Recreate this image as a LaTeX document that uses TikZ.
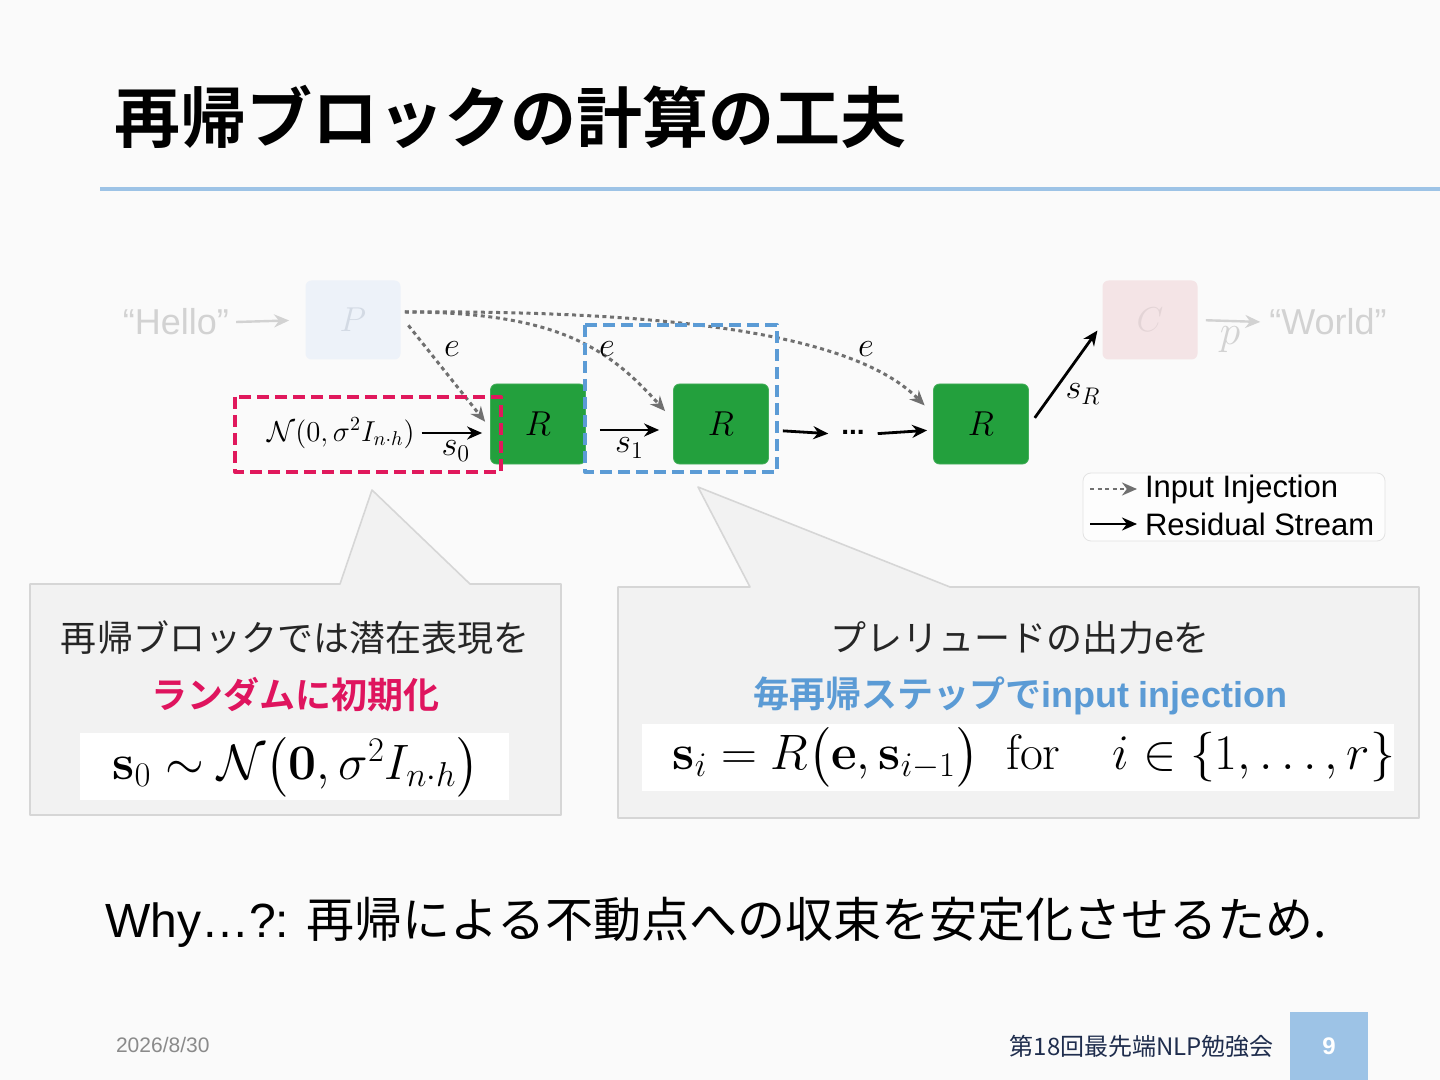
\documentclass[tikz,border=0pt]{standalone}
\usepackage{amsmath}
\usepackage[no-math]{fontspec}
\setmainfont{Liberation Sans}
\newfontfamily\jp{Noto Sans CJK JP}[BoldFont={* Bold}]
\usetikzlibrary{arrows.meta,calc}
\definecolor{slidebg}{HTML}{FAFAFA}
\definecolor{titleblue}{HTML}{9DC3E6}
\definecolor{rgreen}{HTML}{23A03D}
\definecolor{redline}{HTML}{E0185C}
\definecolor{blueline}{HTML}{5B9BD5}
\definecolor{injgray}{HTML}{707070}
\definecolor{ghostgray}{HTML}{D2D2D2}
\definecolor{pfill}{HTML}{EDF2F9}
\definecolor{pletter}{HTML}{D3DAE4}
\definecolor{cfill}{HTML}{F4E4E6}
\definecolor{cletter}{HTML}{E3D4D6}
\definecolor{callfill}{HTML}{F2F2F2}
\definecolor{callline}{HTML}{D6D6D6}
\definecolor{legline}{HTML}{E2E2E2}
\definecolor{navy}{HTML}{1F2D4D}
\definecolor{dategray}{HTML}{8A8A8A}
\definecolor{pinktext}{HTML}{DF145E}
\tikzset{
  rbox/.style={fill=rgreen, draw=rgreen!85!white, rounded corners=3pt,
    minimum width=47.5pt, minimum height=40pt, font=\fontsize{16pt}{16pt}\selectfont},
  ghostbox/.style={rounded corners=3pt, minimum width=47.5pt, minimum height=39.5pt,
    font=\fontsize{16pt}{16pt}\selectfont},
  inj/.style={->, draw=injgray, line width=1.5pt, dash pattern=on 2pt off 1.8pt},
  res/.style={->, line width=1.4pt},
  ghostarrow/.style={->, draw=ghostgray, line width=1.2pt},
  callout/.style={fill=callfill, draw=callline, line width=0.8pt},
  jptext/.style={font=\jp\fontsize{18pt}{18pt}\selectfont, text=black!85, inner sep=0pt},
  bigmath/.style={font=\fontsize{26pt}{30pt}\selectfont, inner sep=0pt}
}
\begin{document}
\begin{tikzpicture}[x=0.5pt, y=-0.5pt, >={Stealth[length=7.5pt,width=6.5pt]}, line join=round]
  \fill[slidebg] (0,0) rectangle (1440,1080);
  \useasboundingbox (0,0) rectangle (1440,1080);
  % title
  \node (title) at (107,117) [anchor=west] {\jp\bfseries\fontsize{33pt}{36pt}\selectfont 再帰ブロックの計算の工夫};
  \draw[titleblue, line width=2pt] (100,189) -- (1440,189);
  % figure
  \node (hello) at (176,322) {\color{ghostgray}\fontsize{18pt}{18pt}\selectfont “Hello”};
  \node[ghostbox, fill=pfill] (P) at (353,320) {\color{pletter}$P$};
  \draw[ghostarrow, shorten <=0pt, shorten >=8pt] (hello.east) -- (P.west);
  \node[rbox] (r1) at (538,424) {$R$};
  \node[rbox] (r2) at (721,424) {$R$};
  \node[rbox] (r3) at (981,424) {$R$};
  \node[ghostbox, fill=cfill] (C) at (1150,320) {\color{cletter}$C$};
  \node (world) at (1328,322) {\color{ghostgray}\fontsize{18pt}{18pt}\selectfont “World”};
  \draw[ghostarrow, shorten <=4pt, shorten >=1pt] (C.east) -- (world.west)
    node[midway, below=-1pt] (plab) {\color{ghostgray}\fontsize{20pt}{20pt}\selectfont$p$};
  % input injection
  \draw[inj, shorten <=6pt, shorten >=4pt] ([yshift=2pt]P.east) -- ([yshift=-2pt]r1.west);
  \draw[inj, shorten <=2pt, shorten >=6pt] ([yshift=4pt]P.east) .. controls (560,312) and (610,350) .. ([yshift=2pt]r2.west);
  \draw[inj, shorten <=2pt, shorten >=6pt] ([yshift=4pt]P.east) .. controls (700,310) and (860,340) .. ([yshift=5pt]r3.west);
  \node (e1) at (452,349) {\fontsize{17pt}{17pt}\selectfont$e$};
  \node (e2) at (607,349) {\fontsize{17pt}{17pt}\selectfont$e$};
  \node (e3) at (866,349) {\fontsize{17pt}{17pt}\selectfont$e$};
  % residual stream
  \node (noise) at (341,433) {\fontsize{14pt}{14pt}\selectfont$\mathcal{N}(0,\sigma^2 I_{n\cdot h})$};
  \draw[res, shorten >=4pt] (noise.east) -- (noise.east -| r1.west)
    node[midway, below=0pt] (s0) {\fontsize{17pt}{17pt}\selectfont$s_0$};
  \draw[res, shorten <=7pt, shorten >=7pt] ([yshift=-3pt]r1.east) -- ([yshift=-3pt]r2.west)
    node[midway, below=0pt] (s1) {\fontsize{17pt}{17pt}\selectfont$s_1$};
  \node (dots) at (853,432) {\fontsize{14pt}{14pt}\selectfont\textbf{...}};
  \draw[res, shorten <=7pt, shorten >=3pt] ([yshift=-3pt]r2.east) -- ([yshift=-1pt]dots.west);
  \draw[res, shorten <=3pt, shorten >=3pt] ([yshift=-1pt]dots.east) -- ([yshift=-3pt]r3.west);
  \draw[res, shorten <=5pt, shorten >=4pt] ([yshift=-1pt]r3.east) -- ([yshift=-2pt]C.west);
  \node (sR) at (1083,394) {\fontsize{17pt}{17pt}\selectfont$s_R$};
  \draw[redline, line width=2pt, dash pattern=on 6pt off 3pt] (235,397) rectangle (501,472);
  \draw[blueline, line width=2pt, dash pattern=on 6pt off 3pt] (585,325) rectangle (777,472);
  % legend
  \node[draw=legline, fill=white!60!slidebg, rounded corners=4pt, minimum width=151pt, minimum height=34pt] (legend) at (1234,507) {};
  \coordinate (inja) at (1090,489);
  \coordinate (injb) at (1137,489);
  \coordinate (resa) at (1090,524);
  \coordinate (resb) at (1137,524);
  \draw[inj, line width=1.2pt] (inja) -- (injb);
  \draw[res, line width=1.2pt] (resa) -- (resb);
  \node (injlab) at (1138,489) [anchor=west] {\fontsize{15.5pt}{16pt}\selectfont Input Injection};
  \node (reslab) at (1138,524) [anchor=west] {\fontsize{15.5pt}{16pt}\selectfont Residual Stream};
  % callouts
  \draw[callout] (30,584) -- (340,584) -- (372,490) -- (470,584) -- (561,584) -- (561,815) -- (30,815) -- cycle;
  \draw[callout] (618,587) -- (750,587) -- (698,487) -- (950,587) -- (1419,587) -- (1419,818) -- (618,818) -- cycle;
  \node[jptext] (left1) at (295,638) {再帰ブロックでは潜在表現を};
  \node[jptext, text=pinktext] (left2) at (295,695) {\bfseries ランダムに初期化};
  \fill[white] (80,733) rectangle (509,800);
  \node[bigmath] (leftmath) at (296,767) {$\mathbf{s}_0\sim\mathcal{N}\bigl(\mathbf{0},\sigma^2 I_{n\cdot h}\bigr)$};
  \node[jptext] (right1) at (1020,638) {プレリュードの出力eを};
  \node[jptext, text=blueline] (right2) at (1020,696) {\bfseries 毎再帰ステップで{\rmfamily input injection}};
  \fill[white] (642,724) rectangle (1394,791);
  \node[bigmath] (rightmath) at (1034,757) {$\mathbf{s}_i=R\bigl(\mathbf{e},\mathbf{s}_{i-1}\bigr)\;\;\mathrm{for}\quad i\in\{1,\dots,r\}$};
  % bottom line
  \node (why) at (98,922) [anchor=west] {\fontsize{24pt}{24pt}\selectfont Why…?: {\jp 再帰による不動点への収束を安定化させるため.}};
  % footer
  \node (date) at (109,1045) [anchor=west] {\color{dategray}\fontsize{10.5pt}{11pt}\selectfont 2026/8/30};
  \node (event) at (1281,1046) [anchor=east] {\color{navy}\jp\fontsize{12pt}{12pt}\selectfont 第18回最先端NLP勉強会};
  \node[fill=titleblue, minimum width=39pt, minimum height=34pt] (pagebox) at (1329,1046) {\color{white}\bfseries\fontsize{12pt}{12pt}\selectfont 9};
\end{tikzpicture}
\end{document}
